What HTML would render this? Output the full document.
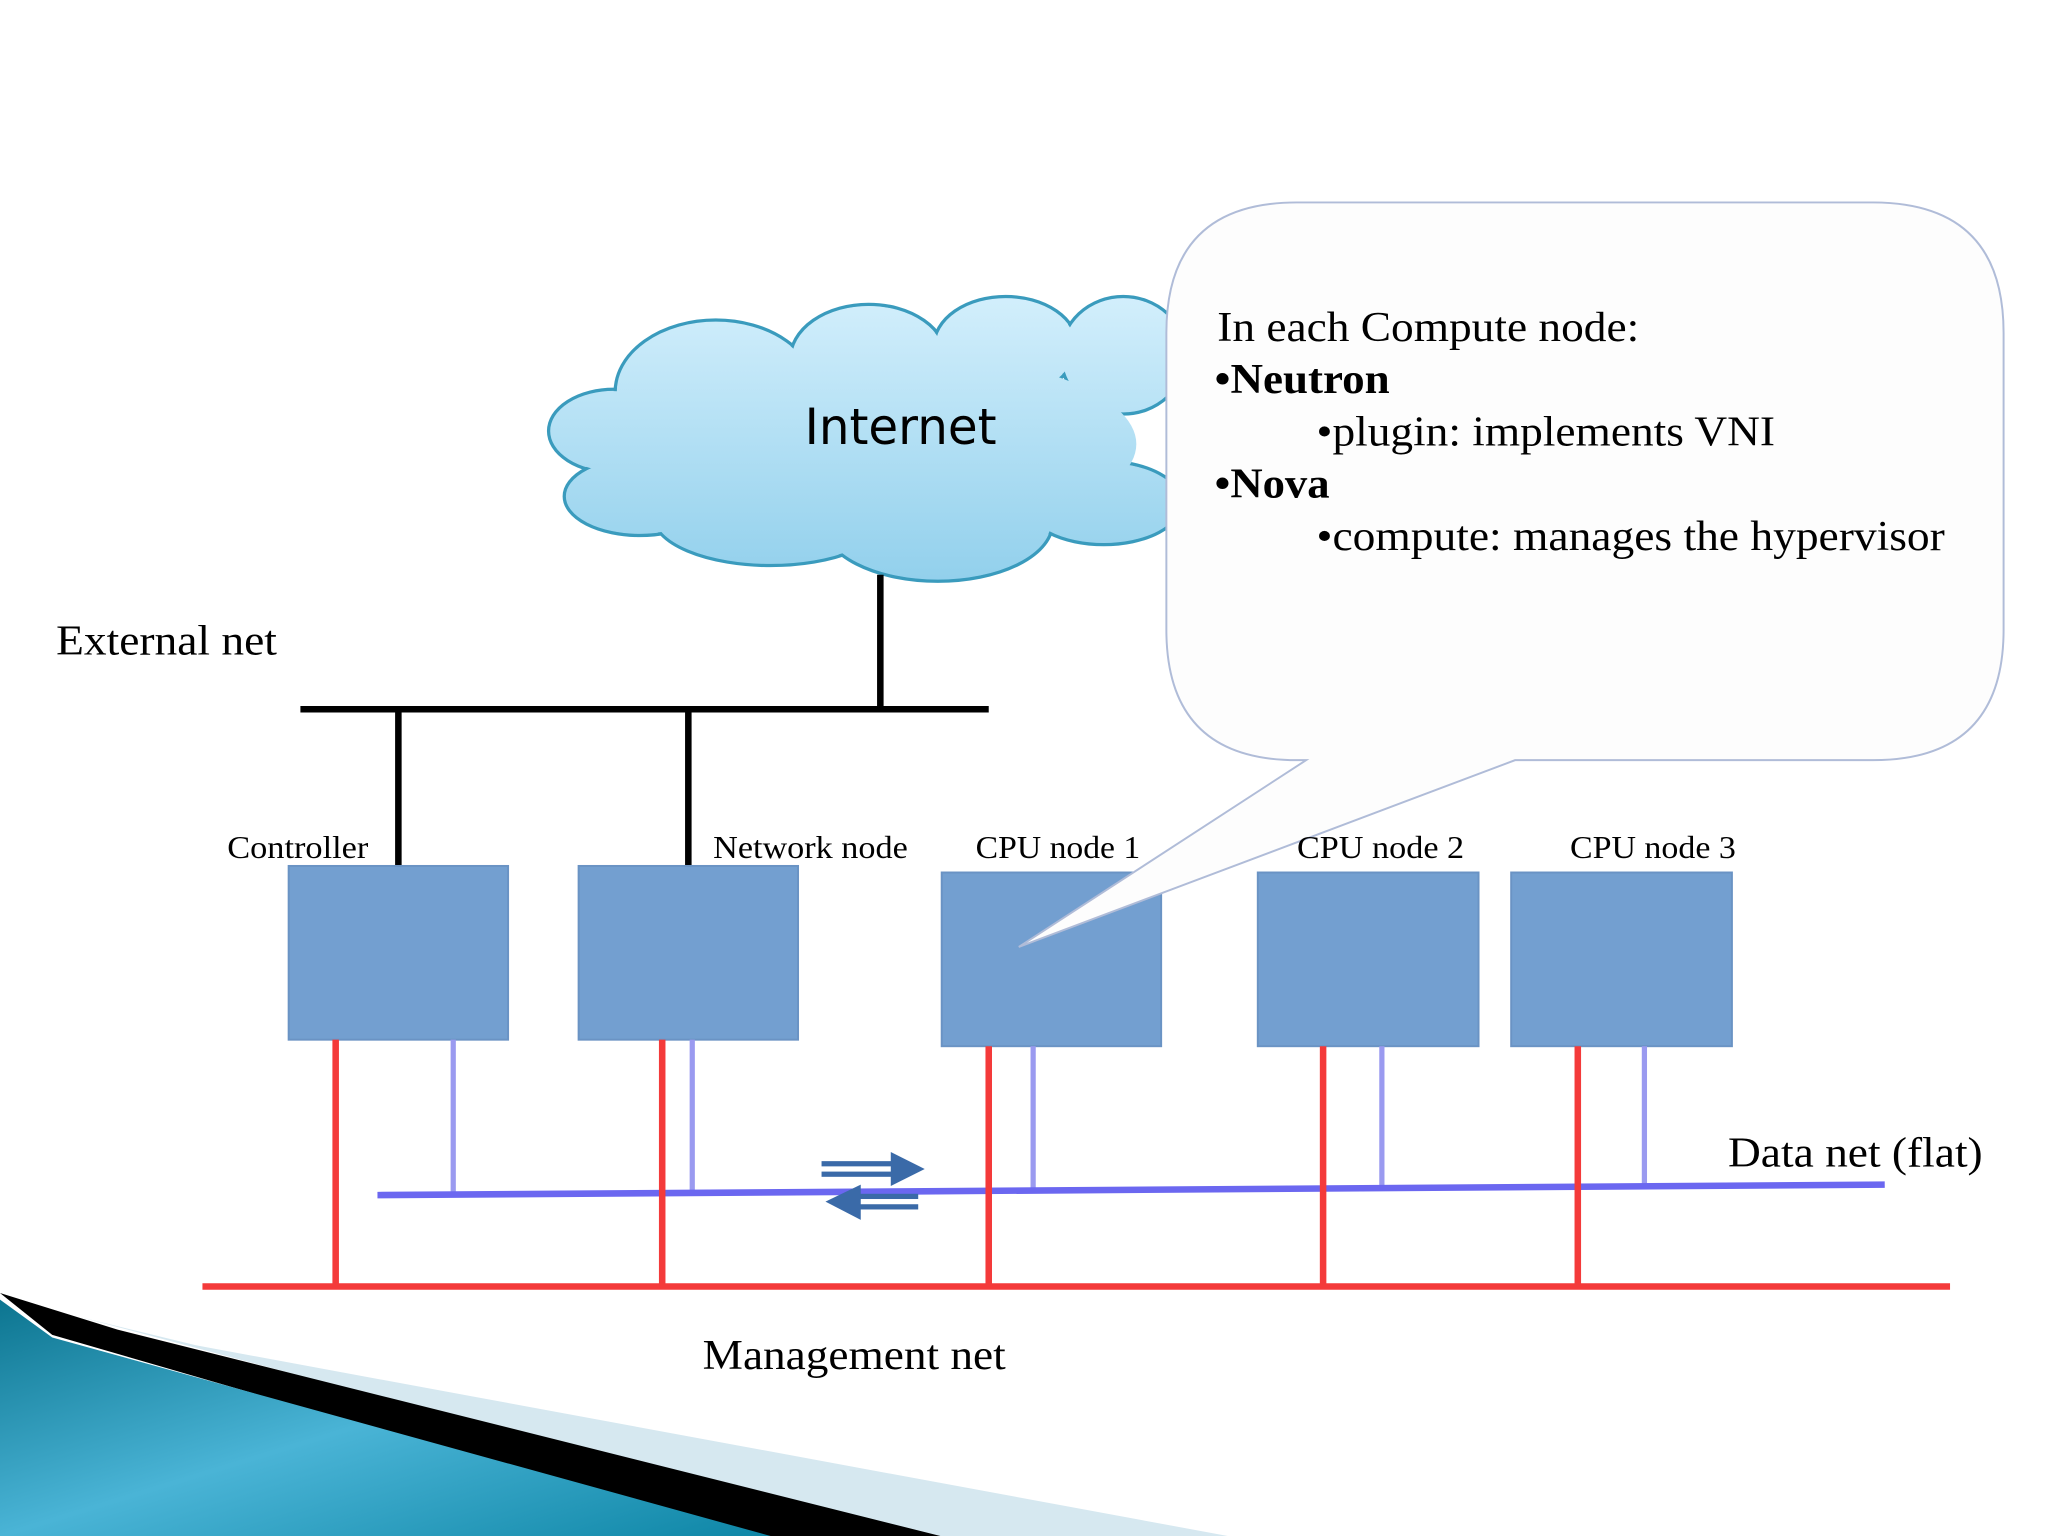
<!DOCTYPE html>
<html><head><meta charset="utf-8"><style>
html,body{margin:0;padding:0;background:#fff;width:2048px;height:1536px;overflow:hidden}
svg{display:block}
text{font-family:"Liberation Serif",serif;fill:#000}
</style></head><body>
<svg width="2048" height="1536" viewBox="0 0 1568 1176" xmlns="http://www.w3.org/2000/svg">
<defs>
<linearGradient id="cg" gradientUnits="userSpaceOnUse" x1="0" y1="225" x2="0" y2="445"><stop offset="0" stop-color="#d3effc"/><stop offset="1" stop-color="#92d0ec"/></linearGradient>
<linearGradient id="tg" x1="0" y1="0" x2="1" y2="1"><stop offset="0" stop-color="#0c7590"/><stop offset="0.5" stop-color="#4ab4d6"/><stop offset="1" stop-color="#0e86a6"/></linearGradient>
</defs>
<polygon points="60,1008 150,1030 940,1176 690,1176" fill="#d6e8f0"/>
<polygon points="0,990 90,1018 720,1176 570,1176 40,1022" fill="#000"/>
<polygon points="0,995 40,1024 590,1176 0,1176" fill="url(#tg)"/>
<g stroke="#3a9bbd" stroke-width="2.5" fill="url(#cg)">
<ellipse cx="470" cy="330" rx="50" ry="32"/>
<ellipse cx="490" cy="380" rx="58" ry="30"/>
<ellipse cx="548" cy="300" rx="77" ry="55"/>
<ellipse cx="665" cy="275" rx="60" ry="42"/>
<ellipse cx="770" cy="265" rx="55" ry="38"/>
<ellipse cx="860" cy="272" rx="48" ry="45"/>
<ellipse cx="590" cy="395" rx="90" ry="38"/>
<ellipse cx="718" cy="400" rx="88" ry="45"/>
<ellipse cx="845" cy="385" rx="60" ry="32"/>
</g>
<g fill="url(#cg)">
<ellipse cx="470" cy="330" rx="48.5" ry="30.5"/>
<ellipse cx="490" cy="380" rx="56.5" ry="28.5"/>
<ellipse cx="548" cy="300" rx="75.5" ry="53.5"/>
<ellipse cx="665" cy="275" rx="58.5" ry="40.5"/>
<ellipse cx="770" cy="265" rx="53.5" ry="36.5"/>
<ellipse cx="860" cy="272" rx="46.5" ry="43.5"/>
<ellipse cx="590" cy="395" rx="88.5" ry="36.5"/>
<ellipse cx="718" cy="400" rx="86.5" ry="43.5"/>
<ellipse cx="845" cy="385" rx="58.5" ry="30.5"/>
<ellipse cx="670" cy="340" rx="200" ry="72"/>
</g>
<text x="616" y="340" style="font-family:'DejaVu Sans',sans-serif" font-size="38" textLength="147" lengthAdjust="spacingAndGlyphs">Internet</text>
<g stroke="#000" stroke-width="5">
<line x1="674" y1="440" x2="674" y2="543"/>
<line x1="230" y1="543" x2="757" y2="543"/>
<line x1="305" y1="543" x2="305" y2="663"/>
<line x1="527" y1="543" x2="527" y2="663"/>
</g>
<g fill="#739fd0" stroke="#6a93c4" stroke-width="1.5">
<rect x="221" y="663" width="168" height="133"/>
<rect x="443" y="663" width="168" height="133"/>
<rect x="721" y="668" width="168" height="133"/>
<rect x="963" y="668" width="169" height="133"/>
<rect x="1157" y="668" width="169" height="133"/>
</g>
<path d="M993,155 H1434 Q1534,155 1534,255 V482 Q1534,582 1434,582 H1160 L780,725 L1000,582 H993 Q893,582 893,482 V255 Q893,155 993,155 Z" fill="#fdfdfd" stroke="#b0bcd8" stroke-width="1.5"/>
<text font-size="32">
<tspan x="932" y="261" textLength="323" lengthAdjust="spacingAndGlyphs">In each Compute node:</tspan>
<tspan x="930" y="301" font-weight="bold" textLength="134" lengthAdjust="spacingAndGlyphs">•Neutron</tspan>
<tspan x="1008" y="341" textLength="351" lengthAdjust="spacingAndGlyphs">•plugin: implements VNI</tspan>
<tspan x="930" y="381" font-weight="bold" textLength="88" lengthAdjust="spacingAndGlyphs">•Nova</tspan>
<tspan x="1008" y="421" textLength="481" lengthAdjust="spacingAndGlyphs">•compute: manages the hypervisor</tspan>
</text>
<g stroke="#9a9af0" stroke-width="4">
<line x1="347" y1="796" x2="347" y2="914"/>
<line x1="530" y1="796" x2="530" y2="914"/>
<line x1="791" y1="801" x2="791" y2="912"/>
<line x1="1058" y1="801" x2="1058" y2="909"/>
<line x1="1259" y1="801" x2="1259" y2="908"/>
</g>
<line x1="289" y1="915" x2="1443" y2="907" stroke="#6b67f0" stroke-width="5"/>
<g stroke="#f43a3a" stroke-width="5">
<line x1="155" y1="985" x2="1493" y2="985"/>
<line x1="257" y1="796" x2="257" y2="985"/>
<line x1="507" y1="796" x2="507" y2="985"/>
<line x1="757" y1="801" x2="757" y2="985"/>
<line x1="1013" y1="801" x2="1013" y2="985"/>
<line x1="1208" y1="801" x2="1208" y2="985"/>
</g>
<g fill="#3a6aa8">
<rect x="629" y="889" width="55" height="4"/>
<rect x="629" y="897" width="55" height="4"/>
<polygon points="682,882 708,895 682,908"/>
<rect x="657" y="914" width="46" height="4"/>
<rect x="657" y="922" width="46" height="4"/>
<polygon points="659,907 632,920 659,934"/>
</g>
<text x="43" y="501" font-size="32" textLength="169" lengthAdjust="spacingAndGlyphs">External net</text>
<text x="174" y="657" font-size="24" textLength="108" lengthAdjust="spacingAndGlyphs">Controller</text>
<text x="546" y="657" font-size="24" textLength="149" lengthAdjust="spacingAndGlyphs">Network node</text>
<text x="747" y="657" font-size="24" textLength="126" lengthAdjust="spacingAndGlyphs">CPU node 1</text>
<text x="993" y="657" font-size="24" textLength="128" lengthAdjust="spacingAndGlyphs">CPU node 2</text>
<text x="1202" y="657" font-size="24" textLength="127" lengthAdjust="spacingAndGlyphs">CPU node 3</text>
<text x="1323" y="893" font-size="32" textLength="195" lengthAdjust="spacingAndGlyphs">Data net (flat)</text>
<text x="538" y="1048" font-size="32" textLength="232" lengthAdjust="spacingAndGlyphs">Management net</text>
</svg>
</body></html>
